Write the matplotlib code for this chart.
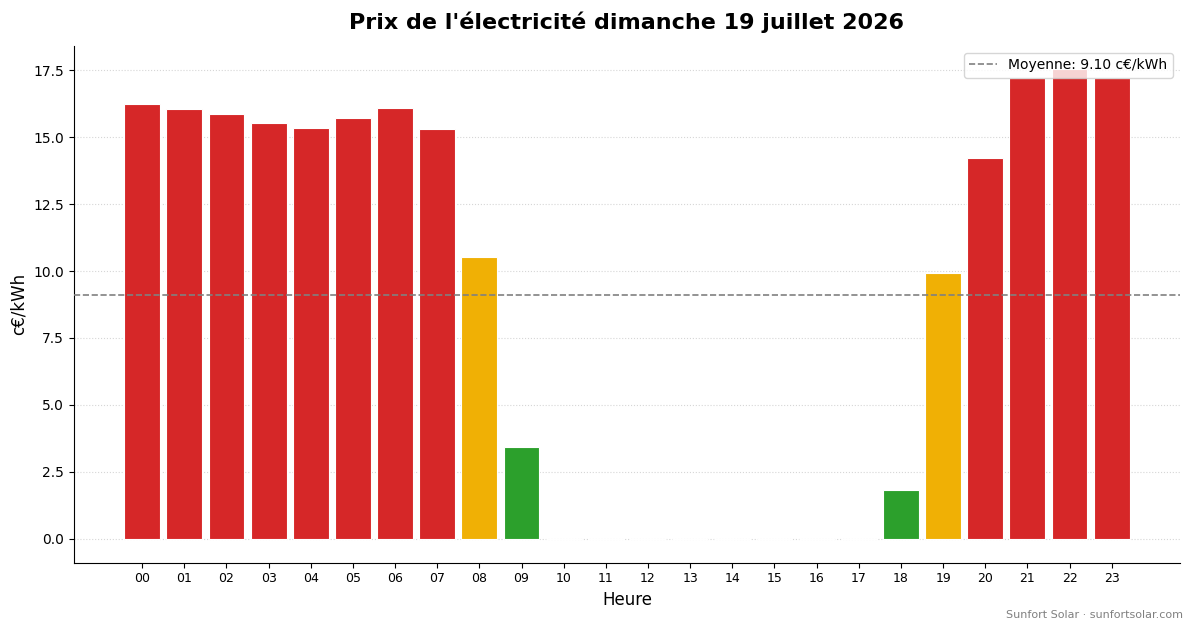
import matplotlib
matplotlib.use("Agg")
import matplotlib.pyplot as plt
import numpy as np

hours = [f"{h:02d}" for h in range(24)]
prices = [16.23, 16.04, 15.86, 15.52, 15.33, 15.71, 16.08, 15.30,
          10.51, 3.44, 0.0, 0.0, 0.0, 0.0, 0.0, 0.0,
          -0.02, 0.0, 1.83, 9.91, 14.21, 17.20, 17.54, 17.20]
mean_price = 9.10
title = "Prix de l'électricité dimanche 19 juillet 2026"

def color_for(p):
    if p <= 0.05:
        return "#c9e8c4"
    if p < 5:
        return "#2ca02c"
    if p < 12:
        return "#f0b005"
    return "#d62728"

colors = [color_for(p) for p in prices]

fig, ax = plt.subplots(figsize=(11.93, 6.28), dpi=100)
x = np.arange(len(hours))
ax.bar(x, prices, width=0.85, color=colors, edgecolor="white", linewidth=0.8, zorder=2)
ax.axhline(mean_price, color="gray", linestyle="--", linewidth=1.2,
           label=f"Moyenne: {mean_price:.2f} c€/kWh", zorder=3)
ax.set_xticks(x)
ax.set_xticklabels(hours, fontsize=9)
ax.tick_params(axis="y", labelsize=10)
ax.set_xlabel("Heure", fontsize=12)
ax.set_ylabel("c€/kWh", fontsize=12)
ax.set_title(title, fontsize=16, fontweight="bold", pad=12)
ax.grid(axis="y", linestyle=":", color="#cccccc", alpha=0.8, zorder=0)
ax.spines["top"].set_visible(False)
ax.spines["right"].set_visible(False)
ax.legend(loc="upper right", fontsize=10)
fig.text(0.992, 0.012, "Sunfort Solar · sunfortsolar.com", ha="right", va="bottom",
         fontsize=8, color="gray")
fig.subplots_adjust(left=0.062, right=0.989, top=0.927, bottom=0.104)
fig.savefig("out.png", dpi=100)
